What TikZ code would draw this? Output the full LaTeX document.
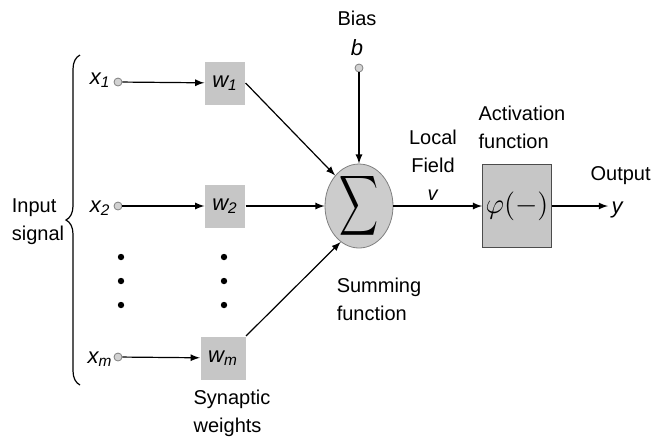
\documentclass[tikz,border=0pt]{standalone}
\usepackage{fontspec}
\setmainfont{Liberation Sans}
\usetikzlibrary{
    arrows,
    calc,
    decorations.pathreplacing,
    shapes
}

\begin{document}
\begin{tikzpicture}[x=0.5pt, y=-0.5pt, >=latex, semithick,
    port/.style={circle, draw=gray, fill=gray!35, inner sep=0pt, minimum size=4pt, thin},
    weight/.style={fill=gray!45, minimum width=20pt, minimum height=21.5pt, inner sep=0pt, font=\fontsize{11}{12}\selectfont\itshape},
    lbl/.style={font=\fontsize{10}{14}\selectfont, align=left, inner sep=0pt},
    var/.style={font=\fontsize{11}{12}\selectfont\itshape, inner sep=0pt}]
            \useasboundingbox (0,0) rectangle (651,441);
            % inputs
            \node[port] (p1) at (118,82) {};
            \node[port] (p2) at (118,206) {};
            \node[port] (pm) at (118,357) {};
            \node[var, anchor=east] (x1) at (111,80) {x\textsubscript{1}};
            \node[var, anchor=east] (x2) at (111,208) {x\textsubscript{2}};
            \node[var, anchor=east] (xm) at (113,359) {x\textsubscript{m}};
            \node[lbl] (insig) at (38,222) {Input\\signal};
            \draw[decorate, decoration={brace, amplitude=7pt}] (80,385) -- (80,55);
            % weights
            \node[weight] (w1) at (225,83) {w\textsubscript{1}};
            \node[weight] (w2) at (225,206) {w\textsubscript{2}};
            \node[weight, minimum width=22.5pt] (wm) at (223,358) {w\textsubscript{m}};
            \node[lbl] (syn) at (232,413) {Synaptic\\weights};
            \fill (121,257) circle (1.6pt) (121,281) circle (1.6pt) (121,305) circle (1.6pt);
            \fill (224,257) circle (1.6pt) (224,281) circle (1.6pt) (224,305) circle (1.6pt);
            % summing junction
            \node[ellipse, draw=gray, fill=gray!40, thin, minimum width=34pt, minimum height=42pt, inner sep=0pt,
                label={[inner sep=0pt]center:\scalebox{1.35}[2.1]{$\displaystyle\sum$}}] (sum) at (359,206) {};
            \node[lbl] (sumlbl) at (379,299) {Summing\\function};
            \node[port] (bias) at (359,68) {};
            \node[var] (b) at (357,48) {b};
            \node[lbl] (biaslbl) at (357,18) {Bias};
            \node[lbl, align=center] (field) at (433,165) {Local\\Field\\\textit{v}};
            % activation
            \node[draw=gray!60!black, fill=gray!45, thin, minimum width=34.5pt, minimum height=41.5pt, inner sep=0pt] (act) at (517,206)
                {\Large$\varphi(-)$};
            \node[lbl] (actlbl) at (522,127) {Activation\\function};
            \coordinate (out) at (608,206);
            \node[var, anchor=west] (y) at (611,210) {y};
            \node[lbl, anchor=west] (outlbl) at (590,176) {Output};
            % connections
            \draw[->] (p1) -- (w1);
            \draw[->] (p2) -- (w2);
            \draw[->] (pm) -- (wm);
            \draw[->] (w1.east) -- (sum.128);
            \draw[->] (w2) -- (sum);
            \draw[->] (wm.north east) -- (sum.243);
            \draw[->] (bias) -- (sum);
            \draw[->] (sum) -- (act);
            \draw[->] (act) -- (out);
        \end{tikzpicture}
\end{document}
